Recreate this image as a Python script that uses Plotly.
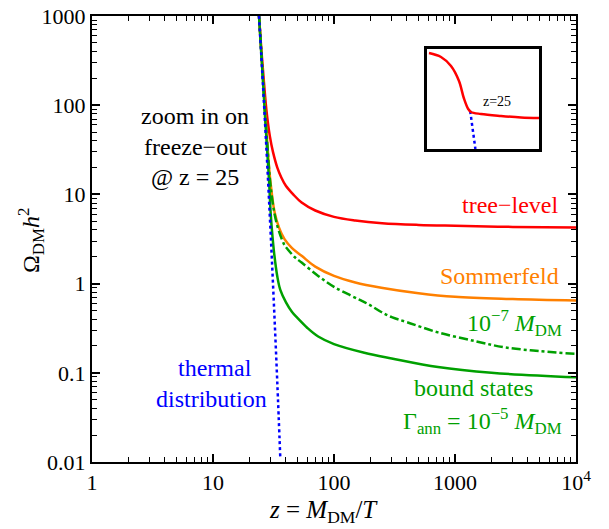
import plotly.graph_objects as go

# ---- data ----
z_thermal = [24, 26, 28, 30, 32, 34, 36]
omega_thermal = [1000, 150, 23, 3.5, 0.52, 0.077, 0.011]

z_tree = [24, 25, 26, 27.6, 29.5, 31.3, 34, 36.7, 40, 46, 54, 70, 100, 150, 250, 500, 1000, 3000, 10000]
omega_tree = [1000, 450, 230, 90, 45, 30, 20, 15.5, 12.5, 10, 8.1, 6.6, 5.6, 5.1, 4.75, 4.55, 4.45, 4.32, 4.25]

z_somm = [24, 25, 26, 27, 28, 29, 30, 32.3, 35, 39, 45, 54, 70, 100, 150, 246, 500, 1000, 3000, 10000]
omega_somm = [1000, 420, 180, 80, 40, 21, 13, 6.3, 4.3, 3.15, 2.5, 2.05, 1.55, 1.22, 1.03, 0.9, 0.78, 0.71, 0.67, 0.645]

z_bs7 = [24, 25, 26, 27, 28, 29, 30, 32.3, 35, 39, 41.7, 47, 54, 74, 100, 139, 170, 200, 246, 300, 400, 723, 1500, 2570, 5000, 10000]
omega_bs7 = [1000, 420, 180, 80, 40, 20, 12, 6.0, 3.9, 2.7, 2.4, 2.0, 1.72, 1.22, 0.92, 0.73, 0.64, 0.57, 0.48, 0.42, 0.37, 0.284, 0.225, 0.193, 0.175, 0.163]

z_bs5 = [24, 25, 26, 27, 28, 29, 30, 31, 32, 34, 36, 40, 45, 50, 60, 74, 100, 178, 300, 723, 2000, 10000]
omega_bs5 = [1000, 400, 170, 70, 32, 15, 6, 3.4, 2.2, 1.2, 0.85, 0.62, 0.48, 0.41, 0.32, 0.255, 0.21, 0.168, 0.145, 0.116, 0.1, 0.089]

# inset (schematic zoom on freeze-out)
inset_z_red = [19.85, 21.35, 22.6, 23.6, 24.2, 24.75, 25.1, 26.35, 28.85, 31.35, 33.6]
inset_y_red = [96, 92, 83, 68, 51, 40, 37, 35, 33, 31.5, 31]
inset_z_blue = [25.0, 25.65]
inset_y_blue = [38, 0]

x_tickvals = [1, 10, 100, 1000, 10000]
x_ticktext = ["1", "10", "100", "1000", "10<sup>4</sup>"]
y_tickvals = [0.01, 0.1, 1, 10, 100, 1000]
y_ticktext = ["0.01", "0.1", "1", "10", "100", "1000"]

x_minor = [m * 10 ** k for k in range(0, 4) for m in range(2, 10)]
y_minor = [m * 10.0 ** k for k in range(-2, 3) for m in range(2, 10)]

RED = "#FF0000"
ORANGE = "#FF8000"
GREEN = "#00A000"
BLUE = "#0000FF"
FONT = "Liberation Serif, Times New Roman, DejaVu Serif, serif"

# page offset of the figure (default body margin) compensated in the margins
OFF = 7
L, R, T, B = 91, 34, 15, 68
PW = 609 - L - R
PH = 529 - T - B
BOTTOM = 529 - B

fig = go.Figure()
fig.add_trace(go.Scatter(x=z_tree, y=omega_tree, mode="lines", line=dict(color=RED, width=2.5, shape="spline"), name="tree-level"))
fig.add_trace(go.Scatter(x=z_somm, y=omega_somm, mode="lines", line=dict(color=ORANGE, width=2.5, shape="spline"), name="Sommerfeld"))
fig.add_trace(go.Scatter(x=z_bs7, y=omega_bs7, mode="lines", line=dict(color=GREEN, width=2.5, dash="dashdot", shape="spline"), name="1e-7"))
fig.add_trace(go.Scatter(x=z_bs5, y=omega_bs5, mode="lines", line=dict(color=GREEN, width=2.5, shape="spline"), name="bound states"))
fig.add_trace(go.Scatter(x=z_thermal, y=omega_thermal, mode="lines", line=dict(color=BLUE, width=2.5, dash="dot", shape="spline"), name="thermal"))

# inset
fig.add_trace(go.Scatter(x=inset_z_blue, y=inset_y_blue, xaxis="x2", yaxis="y2", mode="lines",
                         line=dict(color=BLUE, width=2.5, dash="dot")))
fig.add_trace(go.Scatter(x=inset_z_red, y=inset_y_red, xaxis="x2", yaxis="y2", mode="lines",
                         line=dict(color=RED, width=2.5, shape="spline")))

def axis_common(minor_vals):
    return dict(showline=True, linecolor="black", linewidth=2, mirror="allticks",
                ticks="inside", ticklen=8, tickwidth=1.5, tickcolor="black",
                showgrid=False, zeroline=False, automargin=False, ticklabeloverflow="allow",
                tickfont=dict(family=FONT, size=22, color="black"),
                minor=dict(tickmode="array", tickvals=minor_vals, ticks="inside", ticklen=5,
                           tickwidth=1.2, tickcolor="black", showgrid=False))

def px(xp):
    return (xp - L) / PW
def py(yp):
    return (BOTTOM - yp) / PH

fig.update_layout(
    width=609, height=529,
    margin=dict(l=L - OFF, r=R + OFF, t=T - OFF, b=B + OFF),
    paper_bgcolor="white", plot_bgcolor="white",
    showlegend=False,
    font=dict(family=FONT, color="black"),
    xaxis=dict(type="log", range=[0, 4], tickvals=x_tickvals, ticktext=x_ticktext, **axis_common(x_minor)),
    yaxis=dict(type="log", range=[-2, 3], tickvals=y_tickvals, ticktext=y_ticktext, **axis_common(y_minor)),
    xaxis2=dict(domain=[px(426), px(538)], anchor="y2", range=[19.6, 33.6], showline=True, linecolor="black",
                linewidth=3, mirror=True, showticklabels=False, ticks="", showgrid=False, zeroline=False,
                automargin=False),
    yaxis2=dict(domain=[py(148), py(48)], anchor="x2", range=[0, 100], showline=True, linecolor="black",
                linewidth=3, mirror=True, showticklabels=False, ticks="", showgrid=False, zeroline=False,
                automargin=False),
)

ann = []
def add_text(text, x, y, color="black", size=24, xanchor="center", xref="paper", yref="paper"):
    ann.append(dict(text=text, x=x, y=y, xref=xref, yref=yref, showarrow=False,
                    font=dict(family=FONT, size=size, color=color), xanchor=xanchor, yanchor="middle"))

add_text("Ω<sub>DM</sub><i>h</i><sup>2</sup>", px(30), py(240), size=24)
ann[-1]["textangle"] = -90
add_text("<i>z</i> = <i>M</i><sub>DM</sub>/<i>T</i>", px(322), py(510), size=25)

add_text("zoom in on", px(194), py(115))
add_text("freeze−out", px(194), py(146))
add_text("@ z = 25", px(194), py(176))

add_text("tree−level", px(559), py(204), color=RED, xanchor="right")
add_text("Sommerfeld", px(560), py(275), color=ORANGE, xanchor="right")
add_text("10<sup>−7</sup> <i>M</i><sub>DM</sub>", px(563), py(322), color=GREEN, xanchor="right")
add_text("bound states", px(472), py(387), color=GREEN)
add_text("Γ<sub>ann</sub> = 10<sup>−5</sup> <i>M</i><sub>DM</sub>", px(563), py(420), color=GREEN, xanchor="right")
add_text("thermal", px(214), py(367), color=BLUE)
add_text("distribution", px(210), py(398), color=BLUE)

ann.append(dict(text="z=25", x=28.3, y=48, xref="x2", yref="y2", showarrow=False,
                font=dict(family=FONT, size=14, color="black")))

fig.update_layout(annotations=ann)
fig.write_html("out.html")
